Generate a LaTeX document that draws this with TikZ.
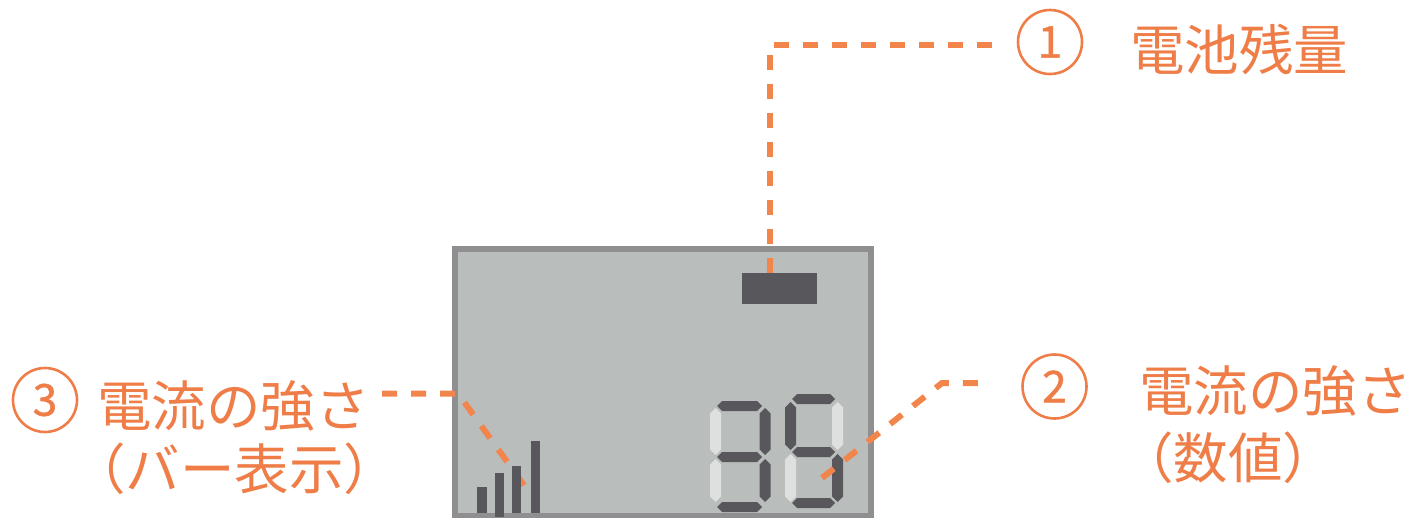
\documentclass[tikz,border=0pt]{standalone}
\usepackage{fontspec}
\newfontfamily\jp{Noto Sans CJK JP}
\newfontfamily\jpnum[FakeBold=1.2]{Noto Sans CJK JP}
\definecolor{ortext}{RGB}{239,125,72}
\definecolor{orline}{RGB}{242,133,76}
\definecolor{lcdbg}{RGB}{185,190,189}
\definecolor{lcdframe}{RGB}{143,142,145}
\definecolor{segdark}{RGB}{88,87,91}
\definecolor{seglight}{RGB}{222,224,223}
\newcommand\hsegm[4]{\fill[#4] (#1,#3) -- (#1+5,#3-5) -- (#2-5,#3-5) -- (#2,#3) -- (#2-5,#3+5) -- (#1+5,#3+5) -- cycle;}
\newcommand\vsegm[4]{\fill[#4] (#1,#2) -- (#1+5.5,#2+5.5) -- (#1+5.5,#3-5.5) -- (#1,#3) -- (#1-5.5,#3-5.5) -- (#1-5.5,#2+5.5) -- cycle;}
\tikzset{
  lead/.style={draw=orline, line width=6pt, dash pattern=on 15pt off 14pt},
  numcirc/.style={circle, draw=ortext, line width=2.6pt, minimum size=64pt, inner sep=0pt, text=ortext, font=\jpnum\fontsize{44}{44}\selectfont},
  label/.style={anchor=base west, inner sep=0pt, text=ortext, font=\jp\fontsize{54.5}{60}\selectfont},
  bar/.style={fill=segdark}
}
\begin{document}
\begin{tikzpicture}[x=1pt,y=-1pt]
\useasboundingbox (0,0) rectangle (1418,517);
\clip (0,0) rectangle (1418,517);
% LCD
\fill[lcdbg] (455,249) rectangle (870.5,520);
\draw[lcdframe, line width=6pt] (455,249) rectangle (870.5,516);
% lead 3 (behind bars)
\coordinate (l3a) at (382,393.5);
\coordinate (l3b) at (458,393.5);
\coordinate (l3c) at (526,488);
\draw[lead] (l3a) -- (l3b) -- (l3c);
% bars
\node[bar, inner sep=0pt, minimum width=10pt, minimum height=26pt] (b1) at (482,500) {};
\node[bar, inner sep=0pt, minimum width=9.5pt, minimum height=44pt] (b2) at (499.5,495) {};
\node[bar, inner sep=0pt, minimum width=9.5pt, minimum height=47pt] (b3) at (516.5,489.5) {};
\node[bar, inner sep=0pt, minimum width=9.5pt, minimum height=72pt] (b4) at (535.5,477) {};
% battery
\node[fill=segdark, inner sep=0pt, minimum width=75pt, minimum height=31pt] (bat) at (779.5,288.5) {};
% digit 1 (3)
\hsegm{717}{762}{406}{segdark}
\vsegm{715.5}{408}{455}{seglight}
\vsegm{765}{408}{455}{segdark}
\hsegm{717}{762}{457}{segdark}
\vsegm{715.5}{459}{502}{seglight}
\vsegm{765}{459}{502}{segdark}
\hsegm{717}{762}{507}{segdark}
% digit 2 (5)
\hsegm{792}{835}{399}{segdark}
\vsegm{790.5}{402}{450}{segdark}
\vsegm{837.5}{402}{450}{seglight}
\hsegm{792}{835}{452}{segdark}
\vsegm{790.5}{454}{502}{seglight}
\vsegm{837.5}{454}{502}{segdark}
\hsegm{792}{835}{503}{segdark}
% lead 1
\coordinate (l1a) at (770,273);
\coordinate (l1b) at (770,45);
\coordinate (l1c) at (996,45);
\draw[lead] (l1a) -- (l1b) -- (l1c);
% lead 2
\coordinate (l2a) at (822,478);
\coordinate (l2b) at (942,383);
\coordinate (l2c) at (981,383);
\draw[lead] (l2a) -- (l2b) -- (l2c);
% labels
\node[numcirc] (c1) at (1050,42) {1};
\node[label] (t1) at (1130,70) {電池残量};
\node[numcirc] (c2) at (1054.5,386.5) {2};
\node[label] (t2a) at (1139,411) {電流の強さ};
\node[label] (t2b) at (1119,478) {（数値）};
\node[numcirc] (c3) at (45,400) {3};
\node[label] (t3a) at (97,426) {電流の強さ};
\node[label] (t3b) at (71,489) {（バー表示）};
\end{tikzpicture}
\end{document}
